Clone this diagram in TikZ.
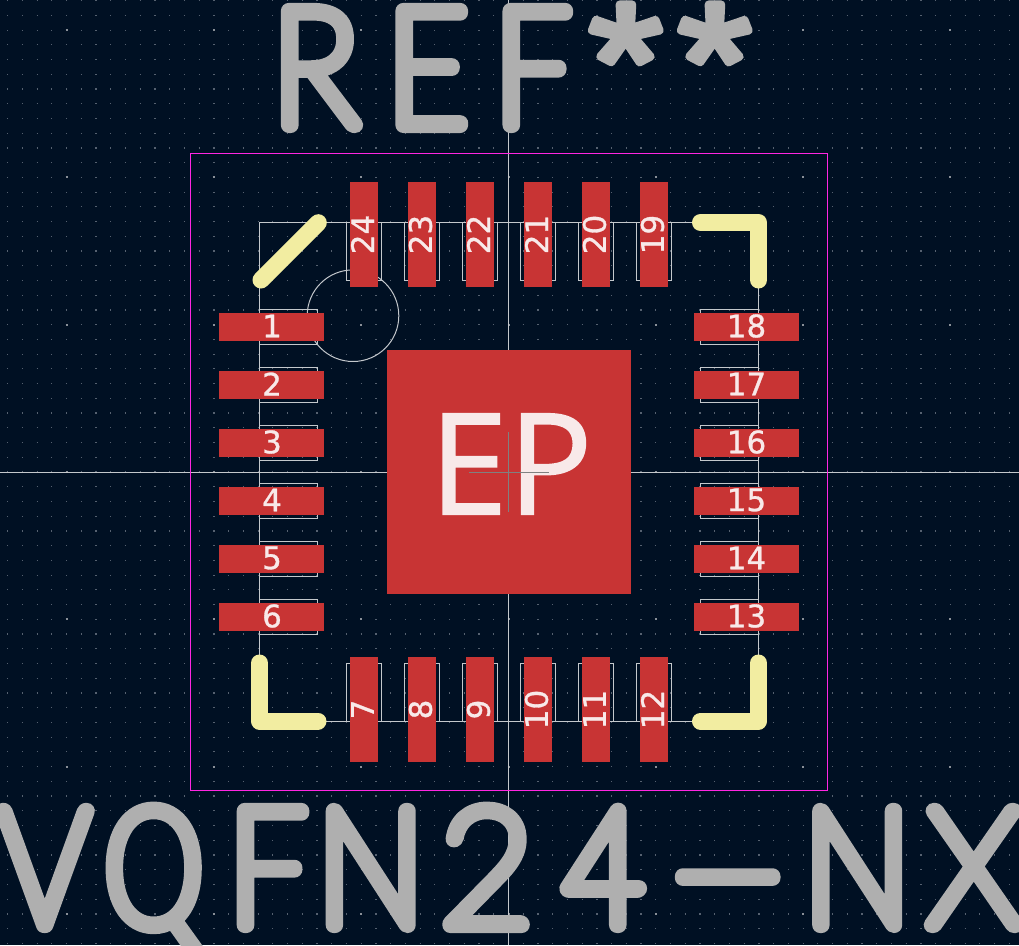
\documentclass[tikz,border=0pt]{standalone}
\usepackage{fontspec}
\usepackage{graphicx}
\setmainfont{DejaVu Sans}
\newfontfamily\padf{DejaVu Sans}
\newfontfamily\epf{Open Sans}
\definecolor{bgc}{HTML}{001023}
\definecolor{padc}{HTML}{C83434}
\definecolor{silkc}{HTML}{F2EDA1}
\definecolor{fabc}{HTML}{AFAFAF}
\definecolor{crtc}{HTML}{FF26E2}
\definecolor{linec}{HTML}{C4C8CC}
\definecolor{padtxt}{HTML}{F8E9E9}
\definecolor{griddot}{HTML}{566170}
\definecolor{gridbig}{HTML}{8A9098}
\newcommand\gl[3]{\hbox to 0pt{\kern#1pt\hbox to 0pt{\hss\fontspec[FakeStretch=#2]{Lato Hairline}\fontsize{163}{163}\selectfont #3\hss}\hss}}
\newcommand\starg[1]{\hbox to 0pt{\kern#1pt\hbox to 0pt{\hss\special{pdf:code 2 Tr 8 w 1 J 1 j}\raisebox{7pt}{\fontspec[FakeStretch=1.15]{Liberation Sans}\fontsize{165}{165}\selectfont *}\hss}\hss}}
\newcommand\strokeon{\special{pdf:code 2 Tr 16 w 1 J 1 j}}
\newcommand\strokeoff{\special{pdf:code 0 Tr 1 w}}
\newcommand\softon{\special{pdf:code 2 Tr 1.5 w 0 J 0 j}}
\newcommand\softpad{\special{pdf:code 2 Tr 0.3 w 0 J 0 j}}
\tikzset{
  padrect/.style={fill=padc,draw=none},
  fabline/.style={draw=linec,line width=1pt},
  silk/.style={draw=silkc,line width=17pt,line cap=round,line join=round},
  padnum/.style={text=padtxt,inner sep=0pt,font=\padf\fontsize{31}{31}\selectfont},
  bigtext/.style={inner sep=0pt,anchor=base west,text=fabc},
}
\begin{document}
\begin{tikzpicture}[x=1pt,y=-1pt]
\useasboundingbox (0,0) rectangle (1019,945);
\fill[bgc] (0,0) rectangle (1019,945);
% grid
\foreach \j in {0,...,64}{
  \pgfmathsetmacro\yy{0.64+\j*14.73}
  \draw[griddot,line width=1.2pt,dash pattern=on 1.2pt off 13.53pt] (7.1,\yy) -- (1019,\yy);
}
\foreach \yy in {30.1,177.4,324.7,472,619.3,766.6,913.9}{
  \draw[gridbig,line width=2pt,dash pattern=on 2pt off 145.3pt] (65.6,\yy) -- (1019,\yy);
}
% crosshair
\draw[linec,line width=1pt] (508.5,0) -- (508.5,945);
\draw[linec,line width=1pt] (0,472.3) -- (1019,472.3);
% fab outline
\draw[fabline] (259.5,222.5) rectangle (758.5,721.5);
\draw[fabline] (353,315.7) circle (45.8);
\foreach \y in {327,385,443,501,559,617}{
  \draw[fabline] (259.5,\y-17.5) rectangle (317.5,\y+17.5);
  \draw[fabline] (700.5,\y-17.5) rectangle (758.5,\y+17.5);
}
\foreach \x in {364,422,480,538,596,654}{
  \draw[fabline] (\x-17.5,222.5) rectangle (\x+17.5,280.5);
  \draw[fabline] (\x-17.5,663.5) rectangle (\x+17.5,721.5);
}
% courtyard
\draw[crtc,line width=1pt] (190.5,153.5) rectangle (827.5,790.5);
% pads
\fill[padrect] (387,350) rectangle (631,594);
\foreach \y in {327,385,443,501,559,617}{
  \fill[padrect] (219,\y-14) rectangle (324,\y+14);
  \fill[padrect] (694,\y-14) rectangle (799,\y+14);
}
\foreach \x in {364,422,480,538,596,654}{
  \fill[padrect] (\x-14,182) rectangle (\x+14,287);
  \fill[padrect] (\x-14,657) rectangle (\x+14,762);
}
% silk
\draw[silk] (261,280) -- (318.3,222.7);
\draw[silk] (700.5,222.5) -- (758.5,222.5) -- (758.5,280);
\draw[silk] (259.5,663) -- (259.5,721) -- (318,721);
\draw[silk] (700.5,721) -- (758.5,721) -- (758.5,663);
% pad numbers
\foreach \y/\l/\r in {326/1/18,384/2/17,442/3/16,500/4/15,558/5/14,616/6/13}{
  \node[padnum] (L\l) at (272,\y) {\softpad\l\strokeoff};
  \node[padnum] (R\r) at (746.5,\y) {\softpad\r\strokeoff};
}
\foreach \x/\t/\b in {362.5/24/7,420.5/23/8,478.5/22/9,536.5/21/10,594.5/20/11,652.5/19/12}{
  \node[padnum,rotate=90] (T\t) at (\x,234.5) {\softpad\t\strokeoff};
  \node[padnum,rotate=90] (B\b) at (\x,709.5) {\softpad\b\strokeoff};
}
\node[text=padtxt,inner sep=0pt,font=\epf\fontsize{141}{141}\selectfont] (EP) at (511,464) {\softon EP\strokeoff};
\draw[gray,line width=1pt] (469,472.3) -- (549,472.3);
\draw[gray,line width=1pt] (508.4,432) -- (508.4,512);
% big text
\node[bigtext] (ref) at (0,125) {\strokeon\gl{314.5}{.9}{R}\gl{427}{.85}{E}\gl{532}{.82}{F}\starg{625}\starg{714}\strokeoff};
\node[bigtext] (val) at (0,925) {\strokeon\gl{44}{.87}{V}\gl{153}{.76}{Q}\gl{267}{.85}{F}\gl{370}{.88}{N}\gl{486}{1}{2}\gl{603}{.85}{4}\gl{727}{2.5}{-}\gl{856.5}{.88}{N}\gl{973}{.95}{X}\strokeoff};
\end{tikzpicture}
\end{document}
